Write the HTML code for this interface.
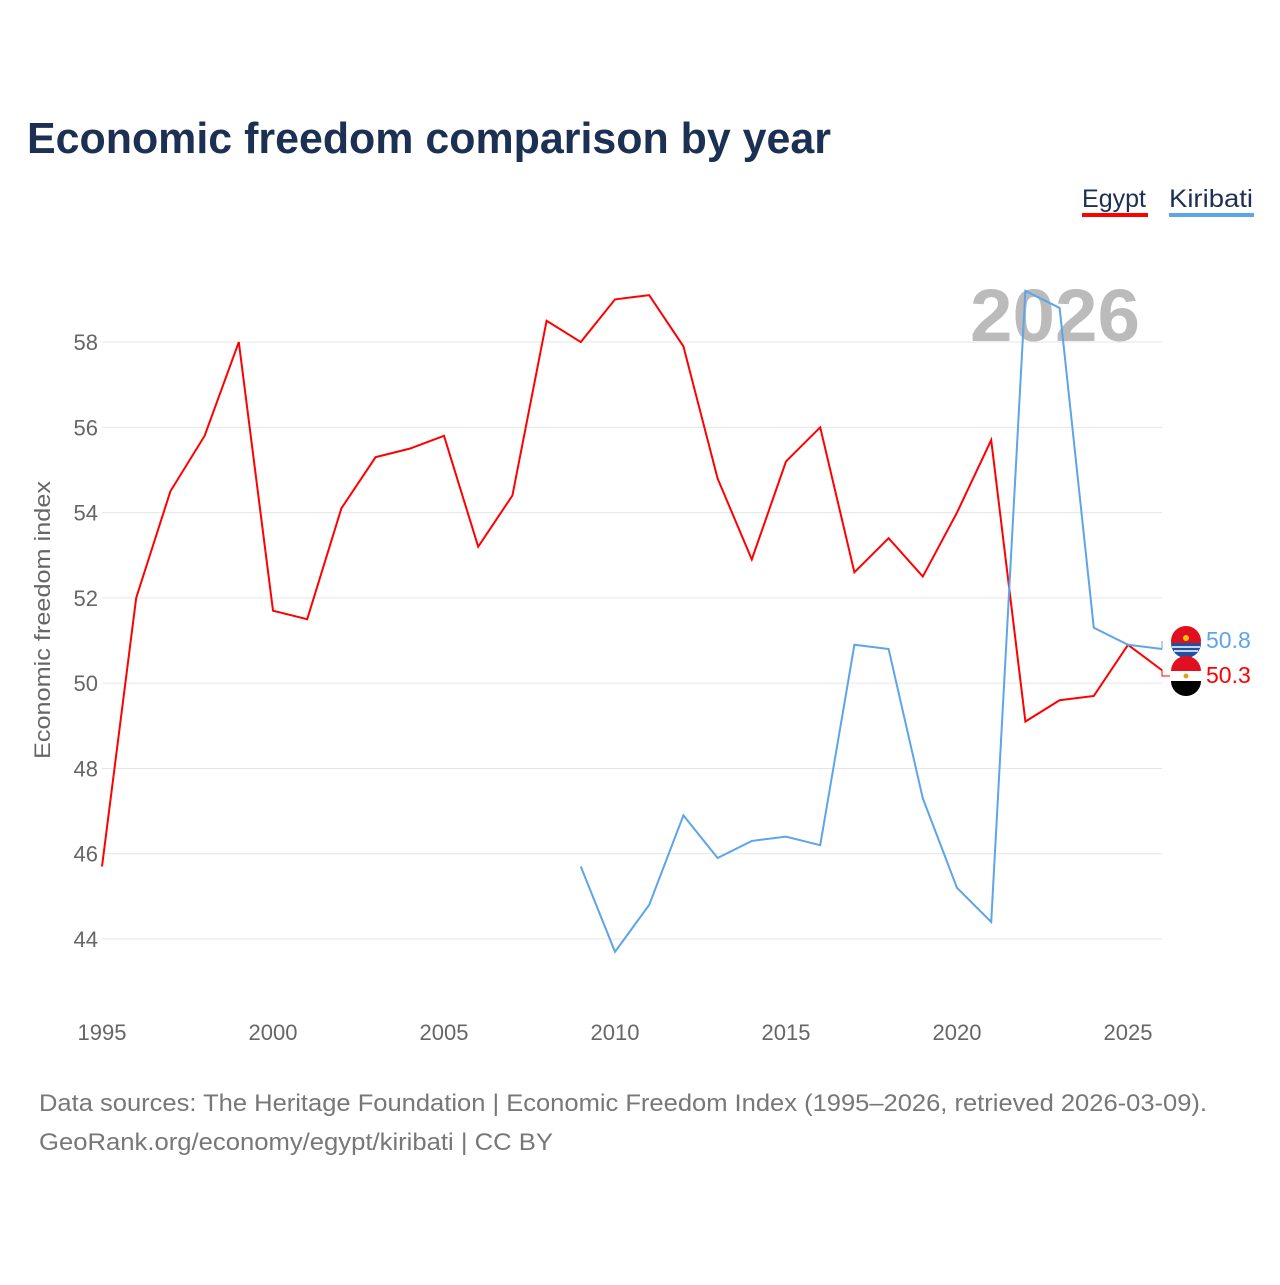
<!DOCTYPE html>
<html><head><meta charset="utf-8"><style>
body{margin:0;background:#fff;font-family:"Liberation Sans",sans-serif;}
#wrap{position:relative;width:1280px;height:1280px;}
</style></head><body>
<div id="wrap">
<svg id="chart" width="1280" height="1280"></svg>
</div>
<script>
const years = [1995,1996,1997,1998,1999,2000,2001,2002,2003,2004,2005,2006,2007,2008,2009,2010,2011,2012,2013,2014,2015,2016,2017,2018,2019,2020,2021,2022,2023,2024,2025,2026];
const egypt = [45.7,52.0,54.5,55.8,58.0,51.7,51.5,54.1,55.3,55.5,55.8,53.2,54.4,58.5,58.0,59.0,59.1,57.9,54.8,52.9,55.2,56.0,52.6,53.4,52.5,54.0,55.7,49.1,49.6,49.7,50.9,50.3];
const kiribatiYears = [2009,2010,2011,2012,2013,2014,2015,2016,2017,2018,2019,2020,2021,2022,2023,2024,2025,2026];
const kiribati = [45.7,43.7,44.8,46.9,45.9,46.3,46.4,46.2,50.9,50.8,47.3,45.2,44.4,59.2,58.8,51.3,50.9,50.8];
const yTicks = [44,46,48,50,52,54,56,58];
const xTicks = [1995,2000,2005,2010,2015,2020,2025];

const NS="http://www.w3.org/2000/svg";
const svg=document.getElementById('chart');
const X=y=>102+(y-1995)*34.2;
const Y=v=>939-(v-44)*42.64;
function el(t,a,txt){const e=document.createElementNS(NS,t);for(const k in a)e.setAttribute(k,a[k]);if(txt!==undefined)e.textContent=txt;svg.appendChild(e);return e;}

let t=el('text',{x:27,y:153,'font-size':44,'font-weight':'bold',fill:'#1b3052',textLength:804,lengthAdjust:'spacingAndGlyphs'},'Economic freedom comparison by year');



yTicks.forEach(v=>{
  let g=el('line',{x1:102,x2:1162,y1:Y(v),y2:Y(v),stroke:'#e6e6e6','stroke-width':1});
  
  
  let l=el('text',{x:98,y:Y(v)+8,'font-size':22,fill:'#666','text-anchor':'end'},v);
  
  
});
xTicks.forEach(v=>{
  let l=el('text',{x:X(v),y:1040,'font-size':22,fill:'#666','text-anchor':'middle'},v);
  
  
});
let yt=el('text',{x:50,y:620,'font-size':22,fill:'#666','text-anchor':'middle',transform:'rotate(-90 50 620)',textLength:278,lengthAdjust:'spacingAndGlyphs'},'Economic freedom index');



let yr=el('text',{x:1140,y:341,'font-size':74,'font-weight':'bold',fill:'#bbb','text-anchor':'end',textLength:170,lengthAdjust:'spacingAndGlyphs'},'2026');



let p1=el('polyline',{points:years.map((y,i)=>X(y)+','+Y(egypt[i])).join(' '),fill:'none',stroke:'#ff0000','stroke-width':2});


let p2=el('polyline',{points:kiribatiYears.map((y,i)=>X(y)+','+Y(kiribati[i])).join(' '),fill:'none',stroke:'#5ea4e8','stroke-width':2});



const kEnd=Y(kiribati[kiribati.length-1]), eEnd=Y(egypt[egypt.length-1]);
el('polyline',{points:`1162,${kEnd} 1162,${641}`,fill:'none',stroke:'#5ea4e8','stroke-width':1});
el('polyline',{points:`1162,${eEnd} 1162,${676} 1170,676`,fill:'none',stroke:'#ff0000','stroke-width':1});
let f1=el('circle',{cx:1186,cy:641,r:15,fill:'#e01020'});


el('path',{d:'M1171,643 L1201,643 A15,15 0 0 1 1171,643 Z',fill:'#2050a0'});
el('line',{x1:1172,x2:1200,y1:647,y2:647,stroke:'#fff','stroke-width':1.5});
el('line',{x1:1174,x2:1198,y1:651,y2:651,stroke:'#fff','stroke-width':1.5});
el('circle',{cx:1186,cy:638,r:3,fill:'#f7c600'});
let f2=el('circle',{cx:1186,cy:676,r:15,fill:'#fff'});


el('path',{d:'M1171,671 A15,15 0 0 1 1201,671 Z',fill:'#e01020'});
el('path',{d:'M1171,681 A15,15 0 0 0 1201,681 Z',fill:'#000'});
el('circle',{cx:1186,cy:676,r:2.5,fill:'#e0a020'});
let l1=el('text',{x:1206,y:648,'font-size':23,fill:'#5ea4e8'},'50.8');


let l2=el('text',{x:1206,y:683,'font-size':23,fill:'#ff0000'},'50.3');



let le=el('text',{x:1082,y:207,'font-size':25,fill:'#1b3052',textLength:64,lengthAdjust:'spacingAndGlyphs'},'Egypt');


el('rect',{x:1082,y:213,width:66,height:4,fill:'#ff0000'});
let lk=el('text',{x:1169,y:207,'font-size':25,fill:'#1b3052',textLength:84,lengthAdjust:'spacingAndGlyphs'},'Kiribati');


el('rect',{x:1169,y:213,width:85,height:4,fill:'#5ea4e8'});

let s1=el('text',{x:39,y:1111,'font-size':24,fill:'#777',textLength:1168,lengthAdjust:'spacingAndGlyphs'},'Data sources: The Heritage Foundation | Economic Freedom Index (1995–2026, retrieved 2026-03-09).');


let s2=el('text',{x:39,y:1150,'font-size':24,fill:'#777',textLength:514,lengthAdjust:'spacingAndGlyphs'},'GeoRank.org/economy/egypt/kiribati | CC BY');


</script>
</body></html>
